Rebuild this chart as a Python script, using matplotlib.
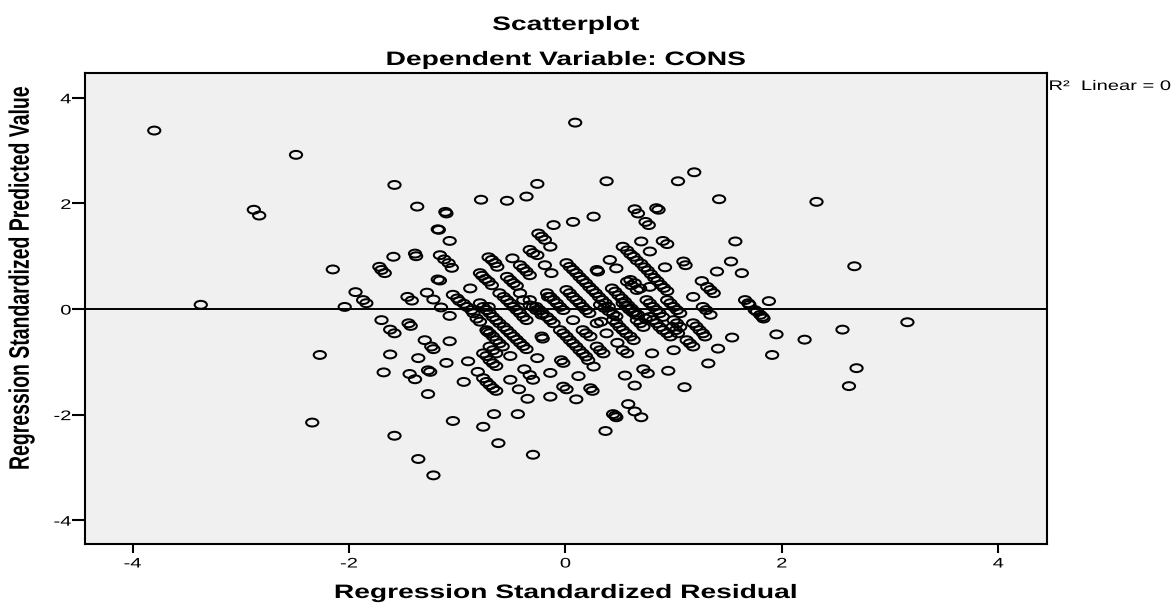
import matplotlib
matplotlib.use("Agg")
import matplotlib.pyplot as plt
import matplotlib.patheffects as pe
from matplotlib.path import Path
from matplotlib.transforms import Affine2D

plt.rcParams['font.family'] = ['Liberation Sans', 'DejaVu Sans']

# ---------------- data (standardized residual, standardized predicted) -------------
outliers = [(-3.80, 3.38), (-2.49, 2.92), (-2.88, 1.88), (-2.83, 1.77), (-1.58, 2.35),
            (-1.59, 0.99), (-2.34, -2.15), (-1.58, -2.40), (2.32, 2.03), (-3.37, 0.08),
            (2.67, 0.81), (1.88, 0.15), (3.16, -0.25), (1.95, -0.48), (2.56, -0.39),
            (2.21, -0.58), (1.91, -0.87), (2.69, -1.12), (2.62, -1.46), (-2.15, 0.75),
            (-2.27, -0.87), (-2.04, 0.04), (1.57, 1.28), (1.53, 0.90), (1.63, 0.68),
            (1.40, 0.71)]

top_group = [(0.09, 3.53), (-1.37, 1.94), (-0.78, 2.07), (-0.54, 2.05), (-0.36, 2.13),
             (-0.26, 2.37), (0.38, 2.42), (1.04, 2.42), (1.19, 2.59), (1.42, 2.08),
             (0.84, 1.91), (0.86, 1.88), (-1.11, 1.84), (-1.10, 1.81), (0.64, 1.89),
             (0.67, 1.81), (0.74, 1.65), (0.77, 1.59), (0.26, 1.75), (0.07, 1.65),
             (-0.11, 1.59), (-1.18, 1.51), (-1.17, 1.50), (-1.07, 1.29), (-0.25, 1.43),
             (-0.22, 1.37), (-0.19, 1.31), (-0.14, 1.18), (0.70, 1.28), (0.78, 1.09),
             (0.90, 1.29), (0.94, 1.23)]

bottom_group = [(-1.04, -2.12), (-0.66, -1.99), (-0.44, -1.99), (-0.76, -2.23), (-0.62, -2.54),
                (-1.36, -2.84), (-1.22, -3.15), (-0.30, -2.76), (0.37, -2.31), (0.44, -1.99),
                (0.46, -2.02), (0.47, -2.05), (0.70, -2.05), (0.64, -1.94), (0.58, -1.80)]

left_group = [(-1.72, 0.80), (-1.70, 0.74), (-1.67, 0.68), (-1.39, 1.05), (-1.38, 1.00),
              (-1.16, 1.02), (-1.12, 0.94), (-1.08, 0.87), (-1.05, 0.78), (-1.18, 0.56),
              (-1.16, 0.54), (-0.88, 0.39), (-1.94, 0.32), (-1.87, 0.17), (-1.84, 0.11),
              (-1.46, 0.23), (-1.42, 0.16), (-1.28, 0.31), (-1.22, 0.18), (-1.15, 0.03),
              (-1.04, 0.27), (-1.00, 0.20), (-0.98, 0.15), (-0.94, 0.10), (-0.91, 0.04),
              (-0.87, -0.02), (-1.70, -0.21), (-1.62, -0.39), (-1.58, -0.46), (-1.45, -0.27),
              (-1.43, -0.32), (-1.30, -0.59), (-1.24, -0.71), (-1.22, -0.76), (-1.07, -0.61),
              (-1.07, -0.13), (-1.62, -0.86), (-1.36, -0.93), (-1.10, -1.02), (-1.68, -1.20),
              (-1.44, -1.23), (-1.39, -1.33), (-1.27, -1.16), (-1.25, -1.19), (-1.27, -1.61),
              (-0.94, -1.38), (-0.90, -0.99), (-0.85, -0.08), (-0.82, -0.18), (-0.79, -0.24)]

center_left = [(-0.71, 0.98), (-0.68, 0.93), (-0.65, 0.87), (-0.63, 0.80), (-0.79, 0.68),
               (-0.77, 0.63), (-0.74, 0.57), (-0.71, 0.52), (-0.68, 0.45), (-0.49, 0.96),
               (-0.42, 0.83), (-0.39, 0.77), (-0.36, 0.71), (-0.33, 0.64), (-0.54, 0.61),
               (-0.51, 0.55), (-0.48, 0.49), (-0.45, 0.44), (-0.33, 1.12), (-0.30, 1.06),
               (-0.26, 1.02), (-0.19, 0.83), (-0.13, 0.68), (-0.71, 0.04), (-0.61, 0.30),
               (-0.57, 0.23), (-0.54, 0.17), (-0.51, 0.11), (-0.48, 0.04), (-0.45, -0.02),
               (-0.42, -0.08), (-0.39, -0.15), (-0.36, -0.21), (-0.42, 0.30), (-0.39, 0.17),
               (-0.33, 0.17), (-0.30, 0.04), (-0.16, 0.23), (-0.17, 0.30), (-0.14, 0.23),
               (-0.11, 0.17), (-0.08, 0.11), (-0.05, 0.04), (-0.02, -0.02), (-0.27, 0.04),
               (-0.24, -0.02), (-0.21, -0.08), (-0.17, -0.15), (-0.14, -0.21), (-0.11, -0.27),
               (-0.79, 0.11), (-0.76, 0.04), (-0.73, -0.02), (-0.70, -0.08), (-0.67, -0.15),
               (-0.64, -0.21), (-0.61, -0.27), (-0.57, -0.34), (-0.54, -0.40), (-0.51, -0.46),
               (-0.73, -0.40), (-0.70, -0.46), (-0.67, -0.52), (-0.64, -0.59), (-0.61, -0.65),
               (-0.58, -0.71), (-0.48, -0.52), (-0.45, -0.58), (-0.42, -0.64), (-0.39, -0.70),
               (-0.36, -0.76), (-0.22, -0.52), (-0.21, -0.56), (-0.72, -0.43), (-0.70, -0.71),
               (-0.67, -0.78), (-0.64, -0.84), (-0.76, -0.84), (-0.73, -0.89), (-0.70, -0.97),
               (-0.67, -1.03), (-0.64, -1.08), (-0.81, -1.19), (-0.76, -1.31), (-0.73, -1.38),
               (-0.70, -1.44), (-0.67, -1.50), (-0.64, -1.55), (-0.51, -0.89), (-0.51, -1.34),
               (-0.43, -1.52), (-0.35, -1.70), (-0.38, -1.14), (-0.33, -1.25), (-0.30, -1.34),
               (-0.26, -0.93), (-0.14, -1.21), (-0.14, -1.66), (-0.02, -1.47), (0.01, -1.52),
               (-0.04, -0.97), (-0.02, -1.02), (-0.33, 0.07), (-0.27, -0.02), (-0.22, -0.11)]

center_right = [(-0.05, -0.40), (-0.02, -0.46), (0.01, -0.52), (0.04, -0.59), (0.07, -0.65),
                (0.10, -0.71), (0.13, -0.78), (0.16, -0.84), (0.19, -0.90), (0.21, -0.97),
                (0.01, 0.87), (0.04, 0.80), (0.07, 0.74), (0.10, 0.68), (0.13, 0.61),
                (0.16, 0.55), (0.19, 0.49), (0.22, 0.42), (0.25, 0.36), (0.28, 0.30),
                (0.31, 0.23), (0.34, 0.17), (0.37, 0.11), (0.40, 0.04), (0.29, 0.74),
                (0.30, 0.71), (0.41, 0.93), (0.47, 0.77), (0.53, 1.18), (0.57, 1.11),
                (0.60, 1.04), (0.63, 0.99), (0.66, 0.92), (0.70, 0.86), (0.73, 0.79),
                (0.76, 0.73), (0.79, 0.66), (0.82, 0.59), (0.85, 0.53), (0.88, 0.46),
                (0.91, 0.40), (0.94, 0.34), (0.78, 0.42), (0.92, 0.79), (1.09, 0.90),
                (1.11, 0.83), (1.26, 0.53), (1.31, 0.42), (1.34, 0.36), (1.37, 0.30),
                (1.18, 0.23), (1.66, 0.17), (1.69, 0.11), (1.77, -0.05), (1.80, -0.11),
                (1.70, 0.08), (1.75, -0.02), (1.83, -0.18), (1.82, -0.15), (0.60, 0.55),
                (0.64, 0.49), (0.69, 0.39), (0.57, 0.52), (0.61, 0.45), (0.66, 0.36),
                (0.43, 0.39), (0.46, 0.33), (0.49, 0.26), (0.52, 0.20), (0.55, 0.14),
                (0.58, 0.07), (0.61, 0.01), (0.64, -0.05), (0.67, -0.11), (0.75, 0.17),
                (0.78, 0.11), (0.81, 0.04), (0.84, -0.02), (0.87, -0.08), (0.90, -0.15),
                (0.94, 0.17), (0.97, 0.11), (1.00, 0.04), (1.03, -0.02), (1.06, -0.08),
                (1.27, 0.04), (1.30, -0.02), (1.34, -0.11), (0.01, 0.36), (0.04, 0.30),
                (0.07, 0.23), (0.10, 0.17), (0.13, 0.11), (0.16, 0.04), (0.19, -0.02),
                (0.22, -0.08), (0.32, 0.08), (0.36, 0.02), (0.40, -0.04), (0.44, -0.10),
                (0.47, -0.14), (0.53, 0.11), (0.56, 0.05), (0.59, -0.01), (0.62, -0.06),
                (0.65, -0.11), (0.44, -0.21), (0.47, -0.27), (0.50, -0.34), (0.53, -0.40),
                (0.56, -0.46), (0.60, -0.52), (0.63, -0.59), (0.07, -0.21), (0.29, -0.27),
                (0.33, -0.24), (0.38, -0.46), (0.16, -0.40), (0.19, -0.46), (0.23, -0.52),
                (0.29, -0.71), (0.32, -0.78), (0.35, -0.84), (0.66, -0.21), (0.69, -0.27),
                (0.72, -0.34), (0.74, -0.18), (0.78, -0.15), (0.81, -0.21), (0.84, -0.27),
                (0.87, -0.34), (0.90, -0.40), (0.94, -0.46), (0.97, -0.52), (0.99, -0.34),
                (1.02, -0.40), (1.04, -0.46), (1.00, -0.21), (1.03, -0.27), (1.06, -0.34),
                (1.18, -0.27), (1.21, -0.33), (1.24, -0.40), (1.27, -0.46), (1.29, -0.52),
                (0.80, -0.84), (0.53, -0.78), (0.57, -0.84), (1.00, -0.78), (0.48, -0.64),
                (1.12, -0.59), (1.15, -0.65), (1.18, -0.71), (1.54, -0.54), (1.41, -0.75),
                (1.32, -1.03), (1.10, -1.48), (0.95, -1.17), (0.72, -1.14), (0.76, -1.22),
                (0.55, -1.26), (0.64, -1.45), (0.26, -1.09), (0.12, -1.27), (0.10, -1.71),
                (0.23, -1.50), (0.25, -1.55)]

x_ticks = [-4, -2, 0, 2, 4]
y_ticks = [-4, -2, 0, 2, 4]
r2_label = "R\u00b2  Linear = 0"

points = outliers + top_group + bottom_group + left_group + center_left + center_right
resid = [p[0] for p in points]
pred = [p[1] for p in points]


# -------- horizontal stretch for text (reference is rendered stretched) --------
class HStretch(pe.AbstractPathEffect):
    def __init__(self, sx=1.45, anchor='center'):
        super().__init__()
        self.sx = sx
        self.anchor = anchor

    def draw_path(self, renderer, gc, tpath, affine, rgbFace=None):
        ext = tpath.get_extents(affine)
        if self.anchor == 'left':
            x0 = ext.x0
        elif self.anchor == 'right':
            x0 = ext.x1
        else:
            x0 = 0.5 * (ext.x0 + ext.x1)
        new = affine + Affine2D().translate(-x0, 0).scale(self.sx, 1.0).translate(x0, 0)
        renderer.draw_path(gc, tpath, new, rgbFace)


W, H = 1175, 603
fig = plt.figure(figsize=(W / 100, H / 100), dpi=100)
fig.patch.set_facecolor('white')

ax = fig.add_axes([85 / W, 1 - 544 / H, (1047 - 85) / W, (544 - 73) / H])
ax.set_facecolor('#F0F0F0')

ellipse = Path.unit_circle().transformed(Affine2D().scale(1.55, 1.0))
ax.axhline(0, color='black', lw=1.4, zorder=2)
ax.scatter(resid, pred, s=8.8 ** 2, marker=ellipse, facecolors='none',
           edgecolors='black', linewidths=1.45, zorder=3)

ax.set_xlim(-4.44, 4.45)
ax.set_ylim(-4.45, 4.47)
ax.set_xticks(x_ticks)
ax.set_yticks(y_ticks)
ax.set_xticklabels([str(v) for v in x_ticks])
ax.set_yticklabels([str(v) for v in y_ticks])
for s in ax.spines.values():
    s.set_linewidth(1.5)
    s.set_color('black')
ax.tick_params(axis='x', length=6.5, width=1.5, labelsize=10, pad=2.5, direction='out')
ax.tick_params(axis='y', length=9.4, width=1.5, labelsize=10, pad=0.5, direction='out')
for lab in ax.get_xticklabels():
    lab.set_path_effects([HStretch(1.45, 'center')])
for lab in ax.get_yticklabels():
    lab.set_path_effects([HStretch(1.45, 'right')])

fig.text(566 / W, 1 - 30 / H, 'Scatterplot', ha='center', va='baseline',
         fontsize=14, fontweight='bold', path_effects=[HStretch()])
fig.text(566 / W, 1 - 65 / H, 'Dependent Variable: CONS', ha='center', va='baseline',
         fontsize=14, fontweight='bold', path_effects=[HStretch()])
fig.text(566 / W, 1 - 598 / H, 'Regression Standardized Residual', ha='center',
         va='baseline', fontsize=14, fontweight='bold', path_effects=[HStretch()])
fig.text(22 / W, 1 - 278 / H, 'Regression Standardized Predicted Value', ha='center',
         va='center', rotation=90, fontsize=14, fontweight='bold',
         path_effects=[HStretch()])
fig.text(1049 / W, 1 - 90 / H, r2_label, ha='left', va='baseline', fontsize=10,
         path_effects=[HStretch(1.45, 'left')])

fig.savefig('out.png', dpi=100, facecolor='white')
